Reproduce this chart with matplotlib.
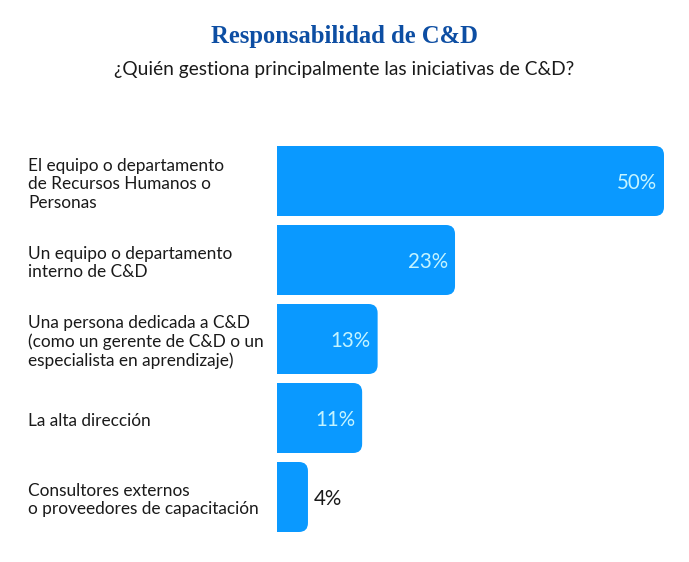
import matplotlib
matplotlib.use('Agg')
import matplotlib.pyplot as plt
import matplotlib.transforms as mtransforms
from matplotlib.patches import FancyBboxPatch

# datos
categorias = [
    'El equipo o departamento\nde Recursos Humanos o\nPersonas',
    'Un equipo o departamento\ninterno de C&D',
    'Una persona dedicada a C&D\n(como un gerente de C&D o un\nespecialista en aprendizaje)',
    'La alta dirección',
    'Consultores externos\no proveedores de capacitación',
]
valores = [50, 23, 13, 11, 4]
etiquetas = ['50%', '23%', '13%', '11%', '4%']

titulo = 'Responsabilidad de C&D'
subtitulo = '¿Quién gestiona principalmente las iniciativas de C&D?'

azul = '#0A99FF'
texto_claro = '#C4F4FF'
azul_titulo = '#0D4EA3'

plt.rcParams['font.family'] = ['Lato', 'DejaVu Sans']

W, H = 689, 562
fig = plt.figure(figsize=(W / 100, H / 100), dpi=100)
fig.patch.set_facecolor('white')

# ejes: x 0..50 -> 277..664 px, filas separadas 79 px
ax = fig.add_axes([277 / W, (H - 536.5) / H, 387 / W, 395 / H])
ax.set_xlim(0, 50)
ax.set_ylim(len(valores) - 0.5, -0.5)
ax.axis('off')

alto = 70 / 79
bars = ax.barh(range(len(valores)), valores, height=alto, color=azul)

# esquinas redondeadas a la derecha (el lado izquierdo se recorta en x=0)
px_x = 387 / 50
px_y = 79
radio = 9 / px_x
for b in bars:
    x0, y0, w, h = b.get_x(), b.get_y(), b.get_width(), b.get_height()
    p = FancyBboxPatch((x0 - 3, y0), w + 3, h,
                       boxstyle=f'round,pad=0,rounding_size={radio}',
                       mutation_aspect=px_x / px_y,
                       facecolor=azul, edgecolor='none')
    ax.add_patch(p)
    b.remove()

for i, (v, t) in enumerate(zip(valores, etiquetas)):
    if v >= 10:
        ax.annotate(t, xy=(v, i + 0.02), xytext=(-5, 0), textcoords='offset points',
                    ha='right', va='center', fontsize=14.8, color=texto_claro)
    else:
        ax.annotate(t, xy=(v, i + 0.02), xytext=(4.5, 0), textcoords='offset points',
                    ha='left', va='center', fontsize=14.8, color='#1a1a1a')

trans = mtransforms.blended_transform_factory(fig.transFigure, ax.transData)
for i, c in enumerate(categorias):
    ax.text(28 / W, i + 0.04, c, transform=trans, ha='left', va='center',
            fontsize=12.4, color='#1a1a1a', linespacing=1.2)

fig.text(0.5, 1 - 37 / H, titulo, ha='center', va='center', fontsize=17.7,
         fontweight='bold', color=azul_titulo, family=['Liberation Serif', 'DejaVu Serif'])
fig.text(0.5, 1 - 70 / H, subtitulo, ha='center', va='center', fontsize=13.8,
         color='#1a1a1a')

fig.savefig('out.png', dpi=100, facecolor='white')
